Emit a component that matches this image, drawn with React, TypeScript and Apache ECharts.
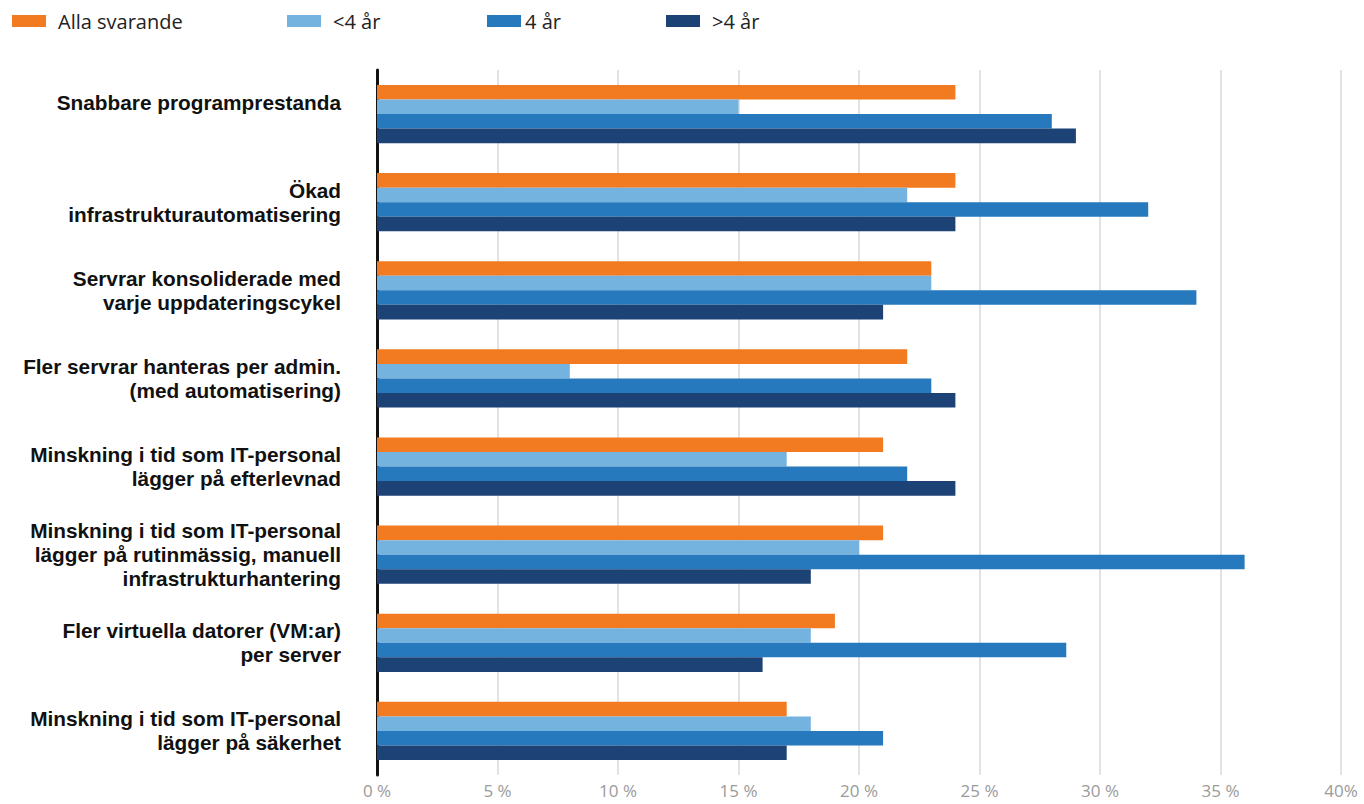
import React, { useEffect, useRef } from "react";
import * as echarts from "echarts";

const categories = [
  "Snabbare programprestanda\n ",
  "Ökad\ninfrastrukturautomatisering",
  "Servrar konsoliderade med\nvarje uppdateringscykel",
  "Fler servrar hanteras per admin.\n(med automatisering)",
  "Minskning i tid som IT-personal\nlägger på efterlevnad",
  "Minskning i tid som IT-personal\nlägger på rutinmässig, manuell\ninfrastrukturhantering",
  "Fler virtuella datorer (VM:ar)\nper server",
  "Minskning i tid som IT-personal\nlägger på säkerhet",
];

const seriesNames = ["Alla svarande", "<4 år", "4 år", ">4 år"];
const allaSvarande = [24, 24, 23, 22, 21, 21, 19, 17];
const under4 = [15, 22, 23, 8, 17, 20, 18, 18];
const exakt4 = [28, 32, 34, 23, 22, 36, 28.6, 21];
const over4 = [29, 24, 21, 24, 24, 18, 16, 17];
const seriesValues = [allaSvarande, under4, exakt4, over4];
const colors = ["#F27A21", "#74B2E0", "#2579BC", "#1D4275"];
const xTicks = [0, 5, 10, 15, 20, 25, 30, 35, 40];

const legendLefts = [12, 287, 487, 666];
const legendTextGaps = [7, 7, -1, 7];

export default function App() {
  const ref = useRef<HTMLDivElement>(null);
  useEffect(() => {
    if (!ref.current) return;
    const chart = echarts.init(ref.current, null, { renderer: "svg" });
    const font = "'Open Sans', 'Noto Sans', sans-serif";
    const labelFont = "'Liberation Sans', Arial, sans-serif";
    chart.setOption({
      animation: false,
      legend: seriesNames.map((n, i) => ({
        data: [n],
        left: legendLefts[i],
        top: 11,
        padding: 0,
        itemWidth: 34,
        itemHeight: 12,
        itemGap: 0,
        icon: "rect",
        selectedMode: false,
        textStyle: {
          fontSize: 20,
          color: "#222",
          fontFamily: font,
          padding: [0, 0, 0, legendTextGaps[i]],
        },
      })),
      grid: { left: 377, right: 23, top: 70, bottom: 29, containLabel: false },
      xAxis: {
        type: "value",
        min: 0,
        max: 40,
        interval: 5,
        axisLine: { show: false },
        axisTick: { show: false },
        splitLine: { show: true, lineStyle: { color: "#d9d9d9", width: 1.5 } },
        axisLabel: {
          margin: 7,
          fontSize: 17,
          color: "#9a9a9a",
          fontFamily: font,
          formatter: (v: number) => (v === xTicks[xTicks.length - 1] ? `${v}%` : `${v} %`),
        },
      },
      yAxis: {
        type: "category",
        data: categories,
        inverse: true,
        axisLine: { show: true, lineStyle: { color: "#111", width: 3 } },
        axisTick: { show: false },
        axisLabel: {
          margin: 36,
          fontSize: 20.8,
          fontWeight: "bold",
          color: "#111",
          fontFamily: labelFont,
          lineHeight: 24,
          align: "right",
        },
      },
      series: seriesNames.map((n, i) => ({
        name: n,
        type: "bar",
        data: seriesValues[i],
        itemStyle: { color: colors[i] },
        barGap: "0%",
        barCategoryGap: "34%",
      })),
    });
    return () => chart.dispose();
  }, []);
  return <div ref={ref} style={{ width: 1364, height: 804, position: "absolute", left: 0, top: 0 }} />;
}
